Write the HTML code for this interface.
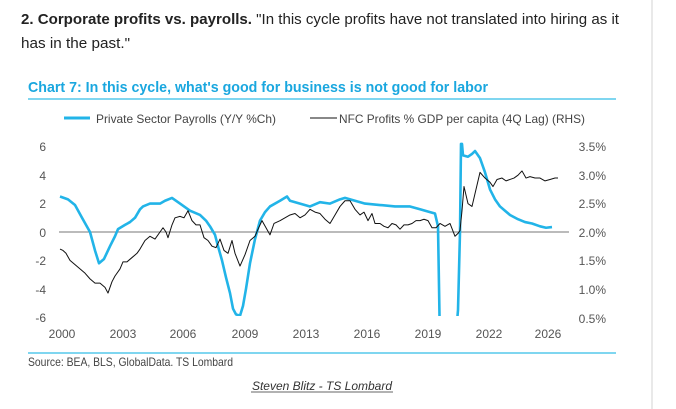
<!DOCTYPE html>
<html><head><style>
html,body{margin:0;padding:0;background:#fff;}
svg{display:block;font-family:"Liberation Sans",sans-serif;}
</style></head><body>
<svg width="676" height="409" viewBox="0 0 676 409" xmlns="http://www.w3.org/2000/svg">
<defs><clipPath id="c"><rect x="55" y="140" width="520" height="176"/></clipPath></defs>
<rect x="0" y="0" width="676" height="409" fill="#fff"/>
<line x1="652" y1="0" x2="652" y2="409" stroke="#e2e2e2" stroke-width="1.5"/>
<text x="21" y="24" font-size="15" fill="#222" textLength="598" lengthAdjust="spacingAndGlyphs"><tspan font-weight="bold">2. Corporate profits vs. payrolls.</tspan> "In this cycle profits have not translated into hiring as it</text>
<text x="21" y="48" font-size="15" fill="#222" textLength="109" lengthAdjust="spacingAndGlyphs">has in the past."</text>
<text x="28" y="92" font-size="15" font-weight="bold" fill="#1aa7df" textLength="460" lengthAdjust="spacingAndGlyphs">Chart 7: In this cycle, what's good for business is not good for labor</text>
<line x1="28" y1="99" x2="616" y2="99" stroke="#33bde8" stroke-width="1.2"/>
<line x1="64" y1="118" x2="90" y2="118" stroke="#22b4e8" stroke-width="3"/>
<text x="96" y="123" font-size="12" fill="#444" textLength="180" lengthAdjust="spacingAndGlyphs">Private Sector Payrolls (Y/Y %Ch)</text>
<line x1="310" y1="118" x2="337" y2="118" stroke="#111" stroke-width="1"/>
<text x="339" y="123" font-size="12" fill="#444" textLength="246" lengthAdjust="spacingAndGlyphs">NFC Profits % GDP per capita (4Q Lag) (RHS)</text>
<g font-size="12" fill="#555" text-anchor="end">
<text x="46" y="151">6</text><text x="46" y="180">4</text><text x="46" y="208">2</text><text x="46" y="237">0</text>
<text x="46" y="265">-2</text><text x="46" y="294">-4</text><text x="46" y="322">-6</text>
</g>
<g font-size="12" fill="#555" text-anchor="end">
<text x="606" y="151">3.5%</text><text x="606" y="180">3.0%</text><text x="606" y="208">2.5%</text><text x="606" y="237">2.0%</text>
<text x="606" y="265">1.5%</text><text x="606" y="294">1.0%</text><text x="606" y="323">0.5%</text>
</g>
<g font-size="12" fill="#555" text-anchor="middle">
<text x="62" y="338">2000</text><text x="123" y="338">2003</text><text x="183" y="338">2006</text><text x="245" y="338">2009</text><text x="306" y="338">2013</text><text x="367" y="338">2016</text><text x="428" y="338">2019</text><text x="489" y="338">2022</text><text x="548" y="338">2026</text>
</g>
<line x1="59" y1="232" x2="569" y2="232" stroke="#777" stroke-width="1"/>
<g clip-path="url(#c)">
<g transform="translate(0,232) scale(1,-14.2)">
<polyline fill="none" stroke="#22b4e8" stroke-width="2.6" vector-effect="non-scaling-stroke" stroke-linejoin="round" points="60,2.5 68,2.3 75,1.9 82,1 90,0 95,-1.3 99,-2.2 104,-1.9 110,-1 115,-0.3 118,0.2 125,0.5 130,0.7 135,1 140,1.6 143,1.8 150,2 160,2 165,2.2 172,2.4 180,2 190,1.5 200,1.2 206,0.8 210,0.4 215,-0.2 218,-1 222,-2 226,-3.2 230,-4.3 233,-5.4 236,-5.8 240,-5.9 243,-5.2 246,-4 250,-2.2 255,-0.5 260,0.8 265,1.4 270,1.8 280,2.2 287,2.5 290,2.2 300,2.0 310,1.8 320,2.1 330,2.0 340,2.3 345,2.4 355,2.2 365,2.0 380,1.9 395,1.8 410,1.8 420,1.6 430,1.4 435,1.3 438,0.4 440,-8 455,-8 458,-5.5 460,0 461,6.2 462,6.2 463,5.4 468,5.3 472,5.5 475,5.7 480,5.2 485,4.2 490,3 495,2.3 500,1.8 505,1.5 510,1.2 518,0.9 525,0.7 532,0.6 540,0.4 546,0.3 552,0.35"/>
<polyline fill="none" stroke="#111" stroke-width="1" vector-effect="non-scaling-stroke" stroke-linejoin="round" points="60,-1.2 63,-1.3 66,-1.5 70,-2 75,-2.3 80,-2.6 85,-2.9 90,-3.3 95,-3.6 100,-3.6 105,-3.9 108,-4.3 112,-3.5 115,-3.1 120,-2.6 123,-2.1 127,-2.1 132,-1.8 137,-1.5 140,-1.2 145,-0.6 150,-0.3 155,-0.5 160,0 163,0.3 166,0 168,-0.4 172,0.5 175,1 180,1.1 184,1 188,1.5 192,0.8 196,0.5 200,0.5 204,-0.4 208,-0.6 212,-1 216,-1.1 220,-0.5 224,-1.3 228,-1.5 232,-0.6 235,-1.5 240,-2.4 245,-1.6 250,-0.6 255,-0.3 258,0.2 262,0.8 266,0.3 270,-0.2 274,0.6 280,0.8 285,1 290,1.2 295,1.3 300,1 305,1.2 310,1.6 315,1.4 320,1.3 325,0.9 330,0.6 335,1.2 340,1.8 345,2.2 350,2.2 355,1.6 360,1.2 364,1.4 368,0.8 372,1.3 375,0.6 380,0.6 384,0.4 388,0.3 392,0.6 396,0.5 400,0.2 404,0.5 408,0.5 412,0.6 416,0.8 420,0.8 424,0.9 428,0.8 432,0.3 436,0.3 440,0.6 445,0.4 450,0.6 455,-0.3 458,-0.1 460,0.1 462,1.5 464,3.2 468,2 472,1.8 476,3 480,4.2 485,3.8 490,3.5 493,3.2 497,3.7 502,3.8 506,3.6 510,3.7 514,3.8 518,4 522,4.3 526,3.8 530,3.9 535,3.8 540,3.8 545,3.6 550,3.7 555,3.8 558,3.8"/>
</g>
</g>
<line x1="28" y1="353" x2="616" y2="353" stroke="#33bde8" stroke-width="1.2"/>
<text x="28" y="366" font-size="12" fill="#444" textLength="205" lengthAdjust="spacingAndGlyphs">Source: BEA, BLS, GlobalData. TS Lombard</text>
<text x="322" y="390" font-size="12" font-style="italic" fill="#333" text-anchor="middle">Steven Blitz - TS Lombard</text>
<line x1="251" y1="392" x2="393" y2="392" stroke="#333" stroke-width="0.8"/>
</svg>
</body></html>
